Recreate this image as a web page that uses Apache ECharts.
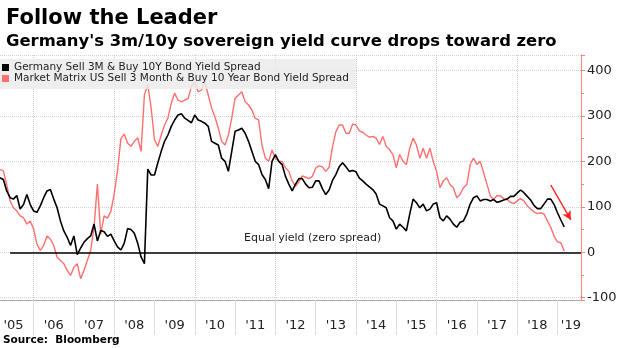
<!DOCTYPE html>
<html><head><meta charset="utf-8">
<script src="https://cdn.jsdelivr.net/npm/echarts@6/dist/echarts.min.js"></script>
<style>html,body{margin:0;padding:0;background:#fff}#c{width:620px;height:348px}</style>
</head><body><div id="c"></div>
<script>
// Monthly categories Mar 2005 .. Aug 2019 (axis span)
const axisStart = [2005, 3];
const axisEnd = [2019, 8];
const seriesStart = '2005-03';   // first month with data
const germanyName = 'Germany Sell 3M & Buy 10Y Bond Yield Spread';
const usName = 'Market Matrix US Sell 3 Month & Buy 10 Year Bond Yield Spread';

// Germany 3M/10Y spread (bp), monthly from 2005-03
const germany = [
164,160,135,120,117,125,95,105,127,105,
91,88,102,120,135,138,117,98,69,47,
33,15,36,-5,9,22,30,36,62,25,
48,45,35,40,25,12,5,20,52,50,
42,20,-10,-25,183,170,170,197,222,244,
258,277,291,302,305,295,290,285,302,291,
288,284,277,244,240,236,207,200,178,222,
266,269,273,262,244,222,200,193,171,160,
140,200,215,200,193,
167,150,135,150,
162,162,150,142,143,157,157,140,127,137,
158,171,188,197,188,178,180,177,163,157,
150,144,138,128,106,102,98,76,69,51,
62,55,47,84,117,109,98,106,91,95,
106,109,76,69,80,73,62,55,66,69,
84,106,120,124,113,116,116,113,116,110,
112,115,117,123,123,130,137,131,123,115,
103,96,96,106,117,117,105,87,71,56
];
// US 3M/10Y spread (bp), monthly from 2005-03
const us = [
182,179,149,113,98,91,80,76,62,69,
51,18,4,15,36,29,15,-11,-18,-25,
-40,-51,-33,-25,-58,-40,-18,4,55,150,
40,80,75,90,128,180,250,260,240,233,
244,252,222,346,370,317,248,233,258,280,
295,328,350,335,331,335,338,365,375,353,
357,375,346,317,298,273,244,236,258,295,
339,346,353,331,324,313,295,291,236,207,
200,225,207,200,200,
186,178,157,145,
155,168,165,162,167,185,190,188,178,187,
232,265,280,280,262,262,282,280,267,264,
258,253,255,251,237,255,233,226,215,186,
215,200,193,229,251,236,207,229,207,229,
200,178,142,157,164,149,142,120,127,142,
149,193,207,193,200,175,150,124,116,125,
124,118,116,110,107,113,118,113,102,95,
89,85,87,84,69,55,35,23,21,2
];
const zeroLine = {from: '2005-06', to: '2019-08', value: 0};
const arrow = {from: ['2018-11', 148], to: ['2019-05', 71]};
const labelMonth = '07';        // year labels sit mid-year
const lastYearLabelMonth = '2019-05';

const categories = [];
for (let y = axisStart[0], m = axisStart[1]; y < axisEnd[0] || (y === axisEnd[0] && m <= axisEnd[1]); ) {
  categories.push(y + '-' + String(m).padStart(2, '0'));
  m++; if (m > 12) { m = 1; y++; }
}
const startIdx = categories.indexOf(seriesStart);
const pad = arr => categories.map((c, i) => { const j = i - startIdx; return (j >= 0 && j < arr.length) ? arr[j] : null; });
const isJan = i => categories[i] && categories[i].slice(5) === '01';

const FONT = 'DejaVu Sans';
const chart = echarts.init(document.getElementById('c'), null, {renderer: 'canvas'});
chart.setOption({
  animation: false,
  backgroundColor: '#fff',
  title: [
    {text: 'Follow the Leader', left: 1, top: 3, textStyle: {fontFamily: FONT, fontWeight: 'bold', fontSize: 21, color: '#000'}},
    {text: "Germany's 3m/10y sovereign yield curve drops toward zero", left: 1, top: 29, textStyle: {fontFamily: FONT, fontWeight: 'bold', fontSize: 16.4, color: '#000'}}
  ],
  legend: {
    orient: 'vertical', left: 0, top: 59, icon: 'rect', itemWidth: 7, itemHeight: 7, itemGap: 0,
    backgroundColor: 'rgba(235,235,235,0.85)', padding: [3, 7, 5, 2],
    textStyle: {fontFamily: FONT, fontSize: 10.5, color: '#222', lineHeight: 10},
    data: [germanyName, usName]
  },
  grid: {left: 0, right: 39, top: 55, bottom: 48, containLabel: false},
  xAxis: {
    type: 'category', data: categories, boundaryGap: false,
    axisLine: {onZero: false, lineStyle: {color: '#aaa', width: 1}},
    axisTick: {show: true, length: 35, interval: i => isJan(i), lineStyle: {color: '#ddd'}},
    axisLabel: {
      interval: (i, v) => (v.slice(5) === labelMonth && v < '2019') || v === lastYearLabelMonth,
      formatter: v => "'" + v.slice(2, 4), margin: 19,
      fontFamily: FONT, fontSize: 13, color: '#222'
    },
    splitLine: {show: true, interval: i => isJan(i) && (+categories[i].slice(0, 4)) % 2 === 0, lineStyle: {color: '#ccc', type: 'dotted'}}
  },
  yAxis: {
    type: 'value', position: 'right', min: -105, max: 434, splitNumber: 5,
    axisLine: {show: true, lineStyle: {color: '#ff8080', width: 1}},
    axisTick: {show: true, length: 4, lineStyle: {color: '#ff8080'}},
    minorTick: {show: true, splitNumber: 2, length: 3, lineStyle: {color: '#ff8080'}},
    axisLabel: {showMinLabel: false, showMaxLabel: false, margin: 6, fontFamily: FONT, fontSize: 13, color: '#222'},
    splitLine: {show: true, lineStyle: {color: '#d4d4d4', type: 'dotted'}}
  },
  graphic: [
    {type: 'text', left: 244, top: 233, style: {text: 'Equal yield (zero spread)', font: '11px "DejaVu Sans"', fill: '#222'}},
    {type: 'text', left: 3, top: 335, style: {text: 'Source:  Bloomberg', font: 'bold 10.5px "DejaVu Sans"', fill: '#000'}}
  ],
  series: [
    {
      name: usName, type: 'line', data: pad(us), showSymbol: false, z: 2,
      itemStyle: {color: '#ff6f6f'}, lineStyle: {color: '#ff6f6f', width: 1.4},
      markLine: {
        silent: true, symbol: ['none', 'arrow'], symbolSize: [7, 9], label: {show: false},
        lineStyle: {color: '#ff2020', width: 1.5, type: 'solid'},
        data: [[{coord: arrow.from}, {coord: arrow.to}]]
      }
    },
    {
      name: germanyName, type: 'line', data: pad(germany), showSymbol: false, z: 3,
      itemStyle: {color: '#000'}, lineStyle: {color: '#000', width: 1.6},
      markLine: {
        silent: true, symbol: ['none', 'none'], label: {show: false},
        lineStyle: {color: '#000', width: 1.6, type: 'solid'},
        data: [[{coord: [zeroLine.from, zeroLine.value]}, {coord: [zeroLine.to, zeroLine.value]}]]
      }
    }
  ]
});
</script></body></html>
